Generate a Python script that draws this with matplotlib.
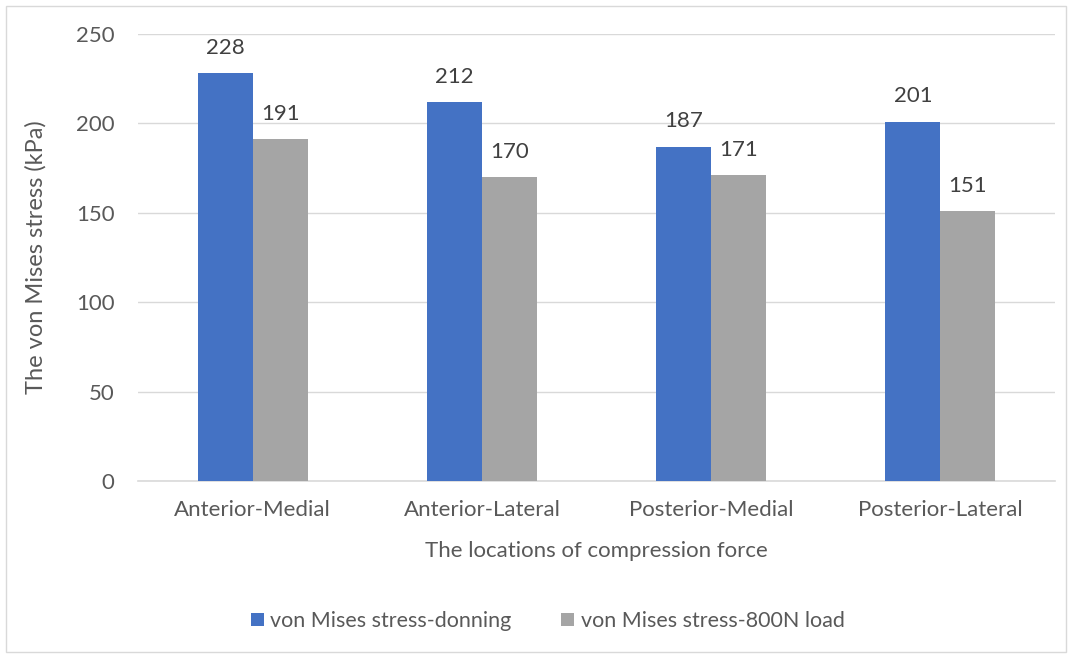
import matplotlib
matplotlib.use("Agg")
import matplotlib.pyplot as plt
import numpy as np
from matplotlib.patches import Rectangle

categories = ["Anterior-Medial", "Anterior-Lateral", "Posterior-Medial", "Posterior-Lateral"]
donning = [228, 212, 187, 201]
load_800n = [191, 170, 171, 151]
series_names = ["von Mises stress-donning", "von Mises stress-800N load"]
y_ticks = [0, 50, 100, 150, 200, 250]

plt.rcParams['font.family'] = ['Lato', 'DejaVu Sans']
text_color = "#595959"
blue = "#4472C4"
gray = "#A5A5A5"

fig = plt.figure(figsize=(10.72, 6.58), dpi=100)
ax = fig.add_axes([138/1072, 177/658, (1055-138)/1072, (481-34)/658])

x = np.arange(len(categories))
w = 0.24
b1 = ax.bar(x - w/2, donning, w, color=blue, label=series_names[0], zorder=3)
b2 = ax.bar(x + w/2, load_800n, w, color=gray, label=series_names[1], zorder=3)

for bars, vals in ((b1, donning), (b2, load_800n)):
    for rect, v in zip(bars, vals):
        ax.annotate(f"{v}", (rect.get_x() + rect.get_width()/2, v),
                    xytext=(0, 11), textcoords="offset points",
                    ha="center", va="bottom", fontsize=16, color="#404040")

ax.set_xlim(-0.5, len(categories) - 0.5)
ax.set_ylim(0, 250)
ax.set_yticks(y_ticks)
ax.set_xticks(x)
ax.set_xticklabels(categories)
ax.yaxis.grid(True, color="#D9D9D9", linewidth=1, zorder=0)
ax.set_axisbelow(True)
for s in ["top", "right", "left"]:
    ax.spines[s].set_visible(False)
ax.spines["bottom"].set_color("#D9D9D9")
ax.spines["bottom"].set_linewidth(1.2)
ax.tick_params(axis="both", length=0, labelsize=16, labelcolor=text_color)
ax.tick_params(axis="x", pad=14)
ax.tick_params(axis="y", pad=17)

ax.set_xlabel("The locations of compression force", fontsize=16, color=text_color, labelpad=15)
ax.set_ylabel("The von Mises stress (kPa)", fontsize=17, color=text_color, labelpad=21)

fig.legend(handles=[b1, b2], loc="center", bbox_to_anchor=(0.511, 1 - 621/658),
           ncol=2, frameon=False, fontsize=15.5, labelcolor=text_color,
           handlelength=0.6, handleheight=0.6, handletextpad=0.3, columnspacing=2.3)

fig.patches.append(Rectangle((6/1072, 6/658), 1060/1072, 646/658, transform=fig.transFigure,
                             fill=False, edgecolor="#D9D9D9", linewidth=1))

fig.savefig("out.png", dpi=100, facecolor="white")
